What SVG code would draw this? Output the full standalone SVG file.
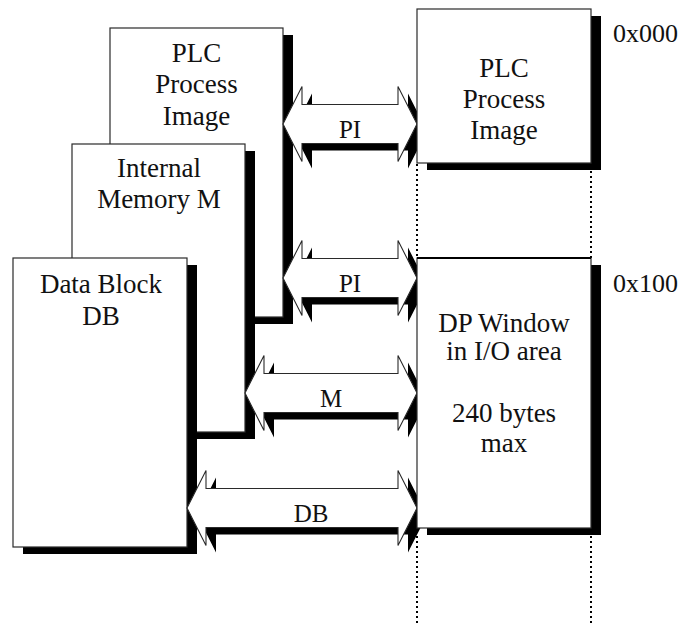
<svg xmlns="http://www.w3.org/2000/svg" xmlns:xlink="http://www.w3.org/1999/xlink" width="683" height="624" viewBox="0 0 683 624" font-family="'Liberation Serif', 'Times New Roman', serif">
  <style>
    .box { fill: #ffffff; stroke: #2a2a2a; stroke-width: 1.2; }
    .shadow { fill: #000000; stroke: none; }
    .arrow { fill: #ffffff; stroke: #2a2a2a; stroke-width: 1.1; stroke-linejoin: miter; }
    .dots { stroke: #000000; stroke-width: 2; stroke-dasharray: 2 3; fill: none; }
    text { fill: #111111; text-anchor: middle; }
    .lbl { font-size: 27px; }
    .alb { font-size: 25px; }
    .hex { font-size: 26px; text-anchor: start; }
  </style>
  <defs>
    <polygon id="arrow-pi1" points="283,124 302,86.5 302,104.5 398,104.5 398,86.5 417,124 398,161.5 398,143.5 302,143.5 302,161.5"/>
    <polygon id="arrow-pi2" points="283,278 302,240.5 302,258.5 398,258.5 398,240.5 417,278 398,315.5 398,297.5 302,297.5 302,315.5"/>
    <polygon id="arrow-m" points="245,393 264,355.5 264,373.5 398,373.5 398,355.5 417,393 398,430.5 398,412.5 264,412.5 264,430.5"/>
    <polygon id="arrow-db" points="187,508 206,470.5 206,488.5 398,488.5 398,470.5 417,508 398,545.5 398,527.5 206,527.5 206,545.5"/>
  </defs>

  <!-- CPU-side memory areas, stacked back to front -->
  <g id="plc-image-cpu">
    <rect class="shadow" x="120" y="35" width="173" height="289"/>
    <rect class="box" x="110" y="28" width="173" height="289"/>
    <text class="lbl" x="196.5" y="62">PLC</text>
    <text class="lbl" x="196.5" y="93">Process</text>
    <text class="lbl" x="196.5" y="125">Image</text>
  </g>
  <g id="internal-memory">
    <rect class="shadow" x="82" y="151" width="173" height="288"/>
    <rect class="box" x="72" y="144" width="173" height="288"/>
    <text class="lbl" x="159" y="177">Internal</text>
    <text class="lbl" x="159" y="208">Memory M</text>
  </g>
  <g id="data-block">
    <rect class="shadow" x="23" y="265" width="174" height="289"/>
    <rect class="box" x="13" y="258" width="174" height="289"/>
    <text class="lbl" x="101" y="293">Data Block</text>
    <text class="lbl" x="101" y="325">DB</text>
  </g>

  <!-- transfer arrows -->
  <g id="connectors">
    <use xlink:href="#arrow-pi1" class="shadow" transform="translate(10,7)"/>
    <use xlink:href="#arrow-pi1" class="arrow"/>
    <use xlink:href="#arrow-pi2" class="shadow" transform="translate(10,7)"/>
    <use xlink:href="#arrow-pi2" class="arrow"/>
    <use xlink:href="#arrow-m" class="shadow" transform="translate(10,7)"/>
    <use xlink:href="#arrow-m" class="arrow"/>
    <use xlink:href="#arrow-db" class="shadow" transform="translate(10,7)"/>
    <use xlink:href="#arrow-db" class="arrow"/>
    <text class="alb" x="350" y="138">PI</text>
    <text class="alb" x="350" y="292">PI</text>
    <text class="alb" x="331" y="407">M</text>
    <text class="alb" x="311" y="522">DB</text>
  </g>

  <!-- I/O address space guides -->
  <g id="guides">
    <line class="dots" x1="417" y1="164" x2="417" y2="258"/>
    <line class="dots" x1="591" y1="171" x2="591" y2="258"/>
    <line class="dots" x1="417" y1="536" x2="417" y2="624"/>
    <line class="dots" x1="591" y1="536" x2="591" y2="624"/>
  </g>

  <!-- I/O-side areas -->
  <g id="plc-image-io">
    <rect class="shadow" x="427" y="16" width="174" height="154"/>
    <rect class="box" x="417" y="9" width="174" height="154"/>
    <text class="lbl" x="504" y="77">PLC</text>
    <text class="lbl" x="504" y="108">Process</text>
    <text class="lbl" x="504" y="139">Image</text>
  </g>
  <g id="dp-window">
    <rect class="shadow" x="427" y="265" width="174" height="270"/>
    <rect class="box" x="417" y="258" width="174" height="270"/>
    <line x1="417" y1="258" x2="591" y2="258" stroke="#000000" stroke-width="2"/>
    <text class="lbl" x="504" y="332">DP Window</text>
    <text class="lbl" x="504" y="360">in I/O area</text>
    <text class="lbl" x="504" y="422">240 bytes</text>
    <text class="lbl" x="504" y="452">max</text>
  </g>

  <g id="addresses">
    <text class="hex" x="613" y="42">0x000</text>
    <text class="hex" x="613" y="292">0x100</text>
  </g>
</svg>
